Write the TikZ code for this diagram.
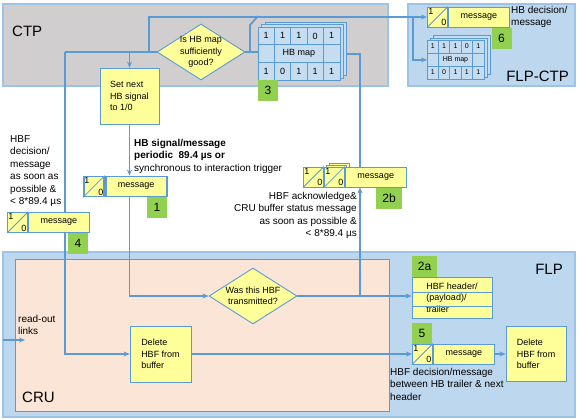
\documentclass[tikz,border=0pt]{standalone}
\usepackage{fontspec}
\setmainfont{Liberation Sans}
\usetikzlibrary{positioning,shapes.geometric,arrows.meta}

\definecolor{wire}{HTML}{5B9BD5}
\definecolor{rim}{HTML}{9DC3E6}
\definecolor{note}{HTML}{FFFF99}
\definecolor{tagg}{HTML}{92D050}
\definecolor{ctpgray}{HTML}{D0CECE}
\definecolor{flpblue}{HTML}{BDD7EE}
\definecolor{crupeach}{HTML}{FBE5D6}
\definecolor{mapcell}{HTML}{C5DCF1}

\pgfdeclarelayer{regions}
\pgfdeclarelayer{wires}
\pgfsetlayers{regions,wires,main}

% 1/0 cell: options, name, west point
\newcommand{\bitcell}[3][]{%
  \node[bitbox,#1,anchor=west] (#2) at #3 {};
  \draw[wire,line width=0.8pt] (#2.south west) -- (#2.north east);
  \node[bitnum,anchor=north west] (#2one) at (#2.north west) {1};
  \node[bitnum,anchor=south east] (#2zero) at (#2.south east) {0};}

% stacked HB map: name, north west corner, cell width, cell height, stack shift, font
\newcommand{\hbmap}[6]{%
  \begin{scope}[shift={#2}]
    \foreach \k in {2,1}
      \draw[wire,line width=0.8pt,fill=mapcell] (\k*#5,-0.7*\k*#5) rectangle ++(5*#3,3*#4);
    \node[mapbox,anchor=north west,minimum width=5*#3,minimum height=3*#4] (#1) at (0,0) {};
    \draw[wire,line width=0.8pt] (0,#4) -- ++(5*#3,0) (0,2*#4) -- ++(5*#3,0)
      (#3,#4) -- ++(0,#4) (4*#3,#4) -- ++(0,#4);
    \foreach \col in {1,...,4}
      \draw[wire,line width=0.8pt] (\col*#3,0) -- ++(0,#4) (\col*#3,2*#4) -- ++(0,#4);
    \foreach \bit [count=\col] in {1,1,1,0,1}
      \node[font=#6] (#1top\col) at (\col*#3-0.5*#3,0.5*#4) {\bit};
    \foreach \bit [count=\col] in {1,0,1,1,1}
      \node[font=#6] (#1bot\col) at (\col*#3-0.5*#3,2.5*#4) {\bit};
    \node[font=#6] (#1name) at (2.5*#3,1.5*#4) {HB map};
  \end{scope}}

\begin{document}
\begin{tikzpicture}[x=1pt,y=-1pt]
\tikzset{
  every node/.style={font=\fontsize{9}{11.5}\selectfont},
  process/.style={draw=wire,line width=0.9pt,fill=note,align=left,inner sep=2pt},
  decision/.style={diamond,draw=wire,line width=0.9pt,fill=note,align=center,
    aspect=1.57,minimum width=88pt,minimum height=56pt,inner sep=-1pt},
  bitbox/.style={draw=wire,line width=0.9pt,fill=note,minimum width=20pt,minimum height=20pt,inner sep=0pt},
  bitnum/.style={inner sep=1.2pt,font=\fontsize{9}{9}\selectfont},
  msgpart/.style={draw=wire,line width=0.9pt,fill=note,minimum width=61pt,minimum height=20pt,inner sep=0pt},
  thick box/.style={line width=1.8pt},
  mapbox/.style={draw=wire,line width=0.8pt,fill=mapcell,inner sep=0pt},
  tag/.style={fill=tagg,minimum width=20pt,minimum height=21pt,inner sep=0pt,font=\fontsize{12}{12}\selectfont},
  txt/.style={inner sep=0pt,align=left,font=\fontsize{10}{12.5}\selectfont},
  area/.style={draw=rim,line width=1.2pt},
  areaname/.style={inner sep=0pt,font=\fontsize{15}{15}\selectfont},
  flow/.style={draw=wire,line width=1.8pt,-{Stealth[length=6pt,width=5pt]}},
  link/.style={draw=wire,line width=1.8pt}
}
\useasboundingbox (0,0) rectangle (581,418);
% areas
\begin{pgfonlayer}{regions}
  \draw[area,fill=ctpgray] (3,4) rectangle (388,86);
  \draw[area,fill=flpblue] (408,4) rectangle (575,86);
  \draw[area,fill=flpblue] (3,252) rectangle (575,417);
  \draw[draw=wire,line width=0.9pt,fill=crupeach] (15,259) rectangle (389,411);
\end{pgfonlayer}
\node[areaname,anchor=base west] (ctpname) at (12,36) {CTP};
\node[areaname,anchor=base east] (flpctpname) at (569,81) {FLP-CTP};
\node[areaname,anchor=base east] (flpname) at (563,274) {FLP};
\node[areaname,anchor=base west] (cruname) at (22,402) {CRU};
% CTP
\node[decision] (hbgood) at (201,52) {Is HB map\\sufficiently\\good?};
\hbmap{hbmap}{(258,27)}{16.35}{17.8}{3.5}{\fontsize{9}{9}\selectfont}
\node[tag] (tag3) at (268,90.5) {3};
\node[process,minimum width=59pt,minimum height=56pt] (setnext) at (129.5,96) {Set next\\HB signal\\to 1/0};
% FLP-CTP
\bitcell{m6b}{(427,17)}
\node[msgpart,right=0pt of m6b] (m6) {message};
\node[tag] (tag6) at (501.5,38) {6};
\hbmap{fmap}{(427,40)}{11.4}{13}{3}{\fontsize{7}{7}\selectfont}
\node[txt,anchor=north west] (hbdec) at (511,6) {HB decision/\\message};
% messages between CTP and CRU/FLP
\bitcell[thick box]{m1b}{(83,186.5)}
\node[msgpart,thick box,right=0pt of m1b] (m1) {message};
\node[tag] (tag1) at (157,207.5) {1};
\node[txt,anchor=north west] (sigtxt) at (134,139) {\textbf{HB signal/message}\\\textbf{periodic\ \ 89.4 µs or}\\synchronous to interaction trigger};
\bitcell{m4b}{(7,222.5)}
\node[msgpart,right=0pt of m4b] (m4) {message};
\node[tag] (tag4) at (78,243) {4};
\node[txt,anchor=north west] (hbfdec) at (10,135) {HBF\\decision/\\message\\as soon as\\possible \&\\< 8*89.4 µs};
\foreach \k in {2,1}
  \draw[wire,line width=0.8pt,fill=note] (323+3*\k,167-2*\k) rectangle ++(20,20);
\bitcell{m2ba}{(303,177)}
\bitcell{m2bb}{(m2ba.east)}
\node[msgpart,right=0pt of m2bb] (m2b) {message};
\node[tag,minimum width=26pt] (tag2b) at (389,198) {2b};
\node[txt,anchor=north east,align=right] (acktxt) at (357,192) {HBF acknowledge\&\\CRU buffer status message\\as soon as possible \&\\< 8*89.4 µs};
% CRU
\node[decision] (wastx) at (253,296) {Was this HBF\\transmitted?};
\node[process,minimum width=61pt,minimum height=56pt] (delcru) at (160.5,354) {Delete\\HBF from\\buffer};
\node[txt,anchor=north west] (readout) at (18,315) {read-out\\links};
% FLP
\node[tag,minimum width=25pt] (tag2a) at (424.5,266.5) {2a};
\node[process,minimum width=80pt,minimum height=41pt] (hbf) at (452,297.5) {HBF header/\\(payload)/\\trailer};
\draw[wire,line width=0.8pt] ([yshift=-16pt]hbf.north west) -- ([yshift=-16pt]hbf.north east)
  ([yshift=-30pt]hbf.north west) -- ([yshift=-30pt]hbf.north east);
\node[tag] (tag5) at (422,333) {5};
\bitcell{m5b}{(412,354)}
\node[msgpart,right=0pt of m5b] (m5) {message};
\node[txt,anchor=north west] (dectxt) at (390,368) {HBF decision/message\\between HB trailer \& next\\header};
\node[process,minimum width=60pt,minimum height=55pt] (delflp) at (536,354) {Delete\\HBF from\\buffer};
% connectors
\begin{pgfonlayer}{wires}
  \coordinate (jl) at (65,52);
  \coordinate (jup) at (149,52);
  \coordinate (jfork) at (413,17);
  \coordinate (jmap) at (250,52);
  \coordinate (jkink) at (250,25);
  \coordinate (jr) at (360,296);
  \coordinate (rin) at (3,340);
  \coordinate (rout) at (25,340);
  \draw[link] (hbgood.west) -- (jl);
  \draw[flow] (jl) |- (delcru.west);
  \draw[flow] (setnext.north |- jl) -- (setnext.north);
  \draw[flow] (jup) |- (m6b.west);
  \draw[flow] (jfork) |- (fmap.west);
  \draw[link] (hbgood.east) -- (hbgood.east -| hbmap.west);
  \draw[link] (jmap) -- (jkink) -- ++(8,-9);
  \draw[link] (hbmap.east) -| (jr |- m2b.north);
  \draw[flow] (jr) -- (jr |- m2b.south);
  \draw[flow] (setnext.south) -- (setnext.south |- m1.north);
  \draw[flow] (setnext.south |- m1.south) |- (wastx.west);
  \draw[flow] (wastx.east) -- (wastx.east -| hbf.west);
  \draw[flow] (delcru.east) -- (m5b.west);
  \draw[flow] (m5.east) -- (m5.east -| delflp.west);
  \draw[flow] (rin) -- (rout);
\end{pgfonlayer}
\end{tikzpicture}
\end{document}
